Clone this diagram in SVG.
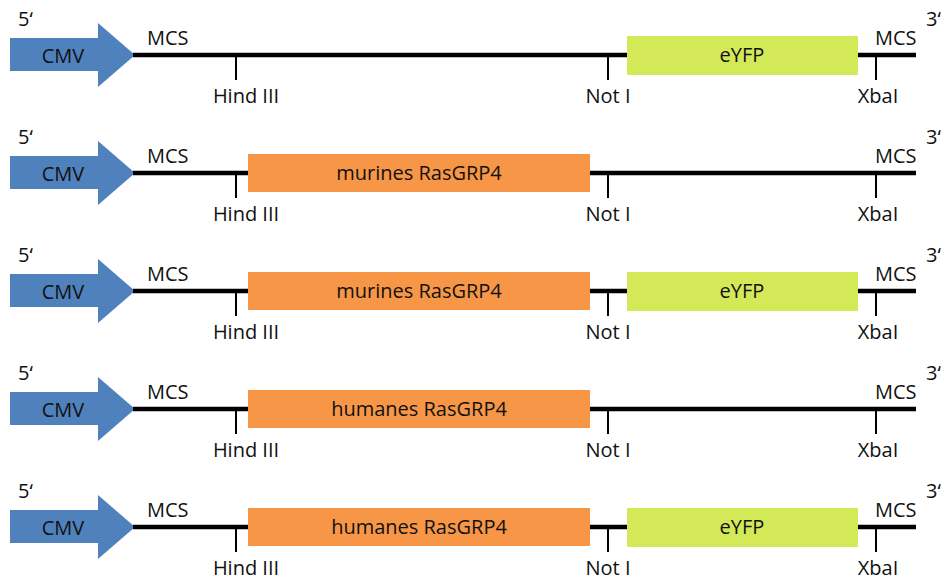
<svg xmlns="http://www.w3.org/2000/svg" width="941" height="579" viewBox="0 0 941 579">
<style>
text{font-family:"Open Sans","Noto Sans",sans-serif;font-size:20px;fill:#111}
.c{text-anchor:middle}
.bb{stroke:#000;stroke-width:4.5}
.tk{stroke:#000;stroke-width:2}
.cmv{fill:#4f81bd}
.org{fill:#f79646}
.yfp{fill:#d3e958}
</style>
<defs>
<g id="base">
<path class="cmv" d="M10,-17 H98 V-32 L135,0 L98,32 V16 H10 Z"/>
<line class="bb" x1="133" y1="0" x2="916" y2="0"/>
<line class="tk" x1="236" y1="2" x2="236" y2="25"/>
<line class="tk" x1="608" y1="2" x2="608" y2="25"/>
<line class="tk" x1="876" y1="2" x2="876" y2="25"/>
<text x="18" y="-29">5‘</text>
<text x="926" y="-29">3‘</text>
<text class="c" x="63" y="8">CMV</text>
<text x="147" y="-10">MCS</text>
<text x="875" y="-10">MCS</text>
<text class="c" x="246" y="48">Hind III</text>
<text class="c" x="608" y="48">Not I</text>
<text class="c" x="878" y="48">XbaI</text>
</g>
</defs>
<g id="construct1" transform="translate(0,55)">
<use href="#base"/>
<g id="eyfp1"><rect class="yfp" x="627" y="-19" width="231" height="39"/><text class="c" x="742" y="7">eYFP</text></g>
</g>
<g id="construct2" transform="translate(0,173)">
<use href="#base"/>
<g id="ras2"><rect class="org" x="248" y="-19" width="342" height="38"/><text class="c" x="419" y="7">murines RasGRP4</text></g>
</g>
<g id="construct3" transform="translate(0,291)">
<use href="#base"/>
<g id="ras3"><rect class="org" x="248" y="-19" width="342" height="38"/><text class="c" x="419" y="7">murines RasGRP4</text></g>
<g id="eyfp3"><rect class="yfp" x="627" y="-19" width="231" height="39"/><text class="c" x="742" y="7">eYFP</text></g>
</g>
<g id="construct4" transform="translate(0,409)">
<use href="#base"/>
<g id="ras4"><rect class="org" x="248" y="-19" width="342" height="38"/><text class="c" x="419" y="7">humanes RasGRP4</text></g>
</g>
<g id="construct5" transform="translate(0,527)">
<use href="#base"/>
<g id="ras5"><rect class="org" x="248" y="-19" width="342" height="38"/><text class="c" x="419" y="7">humanes RasGRP4</text></g>
<g id="eyfp5"><rect class="yfp" x="627" y="-19" width="231" height="39"/><text class="c" x="742" y="7">eYFP</text></g>
</g>
<g id="connectors"></g>
</svg>
